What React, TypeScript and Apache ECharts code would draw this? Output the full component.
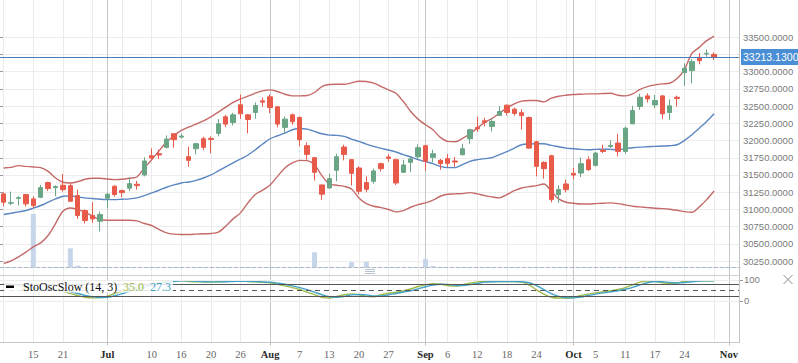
import React, { useEffect, useRef } from "react";
import * as echarts from "echarts";

// Trading days (BSE), 12 Jun 2017 – 31 Oct 2017
const DATES = [
  "2017-06-12","2017-06-13","2017-06-14","2017-06-15","2017-06-16","2017-06-19","2017-06-20","2017-06-21","2017-06-22","2017-06-23",
  "2017-06-27","2017-06-28","2017-06-29","2017-06-30","2017-07-03","2017-07-04","2017-07-05","2017-07-06","2017-07-07","2017-07-10",
  "2017-07-11","2017-07-12","2017-07-13","2017-07-14","2017-07-17","2017-07-18","2017-07-19","2017-07-20","2017-07-21","2017-07-24",
  "2017-07-25","2017-07-26","2017-07-27","2017-07-28","2017-07-31","2017-08-01","2017-08-02","2017-08-03","2017-08-04","2017-08-07",
  "2017-08-08","2017-08-09","2017-08-10","2017-08-11","2017-08-14","2017-08-16","2017-08-17","2017-08-18","2017-08-21","2017-08-22",
  "2017-08-23","2017-08-24","2017-08-28","2017-08-29","2017-08-30","2017-08-31","2017-09-01","2017-09-04","2017-09-05","2017-09-06",
  "2017-09-07","2017-09-08","2017-09-11","2017-09-12","2017-09-13","2017-09-14","2017-09-15","2017-09-18","2017-09-19","2017-09-20",
  "2017-09-21","2017-09-22","2017-09-25","2017-09-26","2017-09-27","2017-09-28","2017-09-29","2017-10-03","2017-10-04","2017-10-05",
  "2017-10-06","2017-10-09","2017-10-10","2017-10-11","2017-10-12","2017-10-13","2017-10-16","2017-10-17","2017-10-18","2017-10-19",
  "2017-10-23","2017-10-24","2017-10-25","2017-10-26","2017-10-27","2017-10-30","2017-10-31",
];

const OPEN = [
  31225,31090,31160,31215,31152,31176,31389,31316,31350,31345,
  31200,30983,30911,30828,31162,31336,31273,31307,31365,31500,
  31780,31809,31901,32099,32050,31765,31881,32026,32031,32104,
  32345,32263,32519,32374,32408,32577,32635,32490,32191,32374,
  32335,31925,31751,31355,31311,31567,31906,31722,31601,31389,
  31408,31664,31761,31722,31538,31683,31765,31925,31756,31712,
  31737,31703,31794,32026,32191,32287,32205,32364,32514,32456,
  32405,32335,31982,31683,31779,31214,31369,31523,31528,31721,
  31639,31861,31915,31963,31842,32243,32494,32649,32518,32649,
  32407,32629,32987,33016,33209,33257,33252,
];
const HIGH = [
  31249,31258,31191,31225,31186,31355,31403,31350,31514,31384,
  31287,30998,31104,30969,31239,31350,31287,31466,31413,31756,
  31886,31867,32075,32108,32104,31910,31968,32055,32060,32311,
  32374,32403,32669,32384,32553,32625,32669,32495,32350,32393,
  32350,31973,31756,31360,31519,31809,31939,31732,31625,31480,
  31592,31679,31804,31737,31722,31756,31944,31939,31867,31732,
  31804,31761,31954,32171,32345,32331,32326,32500,32524,32480,
  32456,32349,31997,31697,31794,31350,31432,31601,31755,31770,
  31837,31939,32002,32098,32204,32504,32678,32687,32663,32663,
  32600,32654,33122,33185,33272,33325,33281,
];
const LOW = [
  31046,31060,31060,31041,31022,31162,31268,31191,31258,31109,
  30862,30795,30804,30679,31017,31186,31176,31263,31287,31480,
  31732,31732,31886,31896,32031,31621,31799,31862,31814,32060,
  32195,32219,32316,32104,32316,32490,32398,32191,32104,32229,
  31915,31722,31418,31138,31302,31408,31712,31345,31220,31249,
  31374,31548,31693,31355,31529,31543,31732,31563,31683,31577,
  31616,31621,31785,31954,32128,32205,32133,32360,32364,32360,
  32160,31881,31480,31446,31103,31094,31248,31441,31470,31562,
  31625,31818,31890,31770,31808,32238,32446,32552,32470,32315,
  32301,32494,32794,32832,33108,33219,33170,
];
const CLOSE = [
  31104,31097,31170,31080,31055,31316,31302,31331,31287,31118,
  30911,30838,30862,30925,31220,31215,31244,31374,31345,31703,
  31746,31790,32021,32012,32065,31712,31954,31901,32017,32244,
  32239,32374,32389,32306,32509,32558,32480,32239,32311,32273,
  32012,31799,31538,31220,31447,31765,31799,31524,31263,31292,
  31558,31592,31741,31384,31645,31732,31896,31698,31809,31664,
  31669,31688,31881,32157,32171,32263,32277,32422,32408,32393,
  32362,31890,31625,31591,31142,31287,31287,31499,31663,31577,
  31818,31842,31929,31842,32180,32436,32629,32605,32581,32388,
  32504,32610,33050,33146,33161,33267,33213.13,
];
const VOLUME = [
  0,0,0,0,200,0,0,0,0,71,
  6,0,0,0,0,0,0,0,0,0,
  0,0,0,0,0,0,0,0,0,0,
  0,0,0,0,0,0,0,0,0,0,
  0,0,56,0,0,0,0,19,0,20,
  0,0,0,0,0,0,0,31,5,0,
  0,0,0,0,0,0,0,0,0,0,
  0,0,0,0,0,0,0,0,0,0,
  0,0,0,0,0,0,0,0,0,0,
  0,0,0,0,0,0,0,
];

// Bollinger bands (20, 2)
const BB_UPPER = [
  31601,31611,31635,31625,31616,31606,31553,31456,31394,31384,
  31403,31437,31452,31452,31442,31432,31437,31452,31471,31601,
  31722,31852,31978,32070,32147,32195,32239,32287,32345,32413,
  32485,32553,32606,32644,32688,32722,32736,32712,32673,32649,
  32649,32654,32698,32785,32814,32818,32818,32838,32862,32857,
  32833,32785,32736,32688,32567,32422,32311,32229,32157,32046,
  31988,31983,32031,32099,32181,32263,32321,32398,32476,32533,
  32572,32582,32581,32562,32615,32644,32658,32668,32673,32678,
  32678,32683,32687,32658,32649,32678,32745,32784,32808,32823,
  32832,32900,33035,33267,33354,33451,33518,
];
const BB_MIDDLE = [
  30925,30944,30964,30983,31017,31056,31104,31152,31191,31196,
  31181,31167,31157,31147,31142,31142,31147,31152,31167,31200,
  31239,31278,31321,31355,31384,31398,31422,31456,31500,31558,
  31616,31674,31732,31790,31867,31950,32026,32070,32108,32157,
  32176,32166,32133,32099,32079,32075,32060,32021,31988,31949,
  31915,31886,31862,31833,31795,31761,31722,31693,31664,31625,
  31606,31606,31650,31698,31722,31737,31751,31795,31838,31891,
  31939,31950,31953,31953,31929,31910,31890,31881,31871,31866,
  31871,31876,31871,31866,31881,31895,31905,31910,31915,31920,
  31924,31939,32002,32084,32180,32277,32388,
];
const BB_LOWER = [
  30215,30253,30311,30379,30456,30514,30620,30794,30973,31021,
  30997,30959,30901,30853,30843,30843,30843,30843,30833,30795,
  30766,30708,30659,30640,30635,30635,30640,30645,30650,30669,
  30756,30862,30949,31094,31215,31280,31355,31480,31601,31674,
  31712,31708,31650,31490,31369,31350,31335,31297,31167,31085,
  31046,31026,30998,30964,30983,31031,31070,31094,31133,31191,
  31220,31225,31229,31244,31225,31200,31181,31167,31215,31273,
  31311,31330,31345,31369,31263,31152,31103,31089,31079,31079,
  31084,31089,31094,31084,31065,31045,31036,31026,31016,31011,
  31002,30987,30968,30958,31036,31142,31267,
];

// Slow stochastic (14, 3)
const STOCH_K = [
  79,78,73,65,52,50,55,50,45,35,
  25,17,14,15,22,35,45,55,65,75,
  82,88,93,96,96,92,90,90,89,91,
  92,93,94,92,90,88,86,79,71,63,
  54,41,29,16,13,21,29,33,29,21,
  19,29,36,41,48,56,68,76,81,79,
  73,70,76,84,90,92,92,92,92,92,
  89,76,52,32,17,13,13,17,25,32,
  38,43,48,54,63,76,89,94,92,86,
  83,86,92,95,95,95,95,
];
const STOCH_D = [
  80,79,77,72,63,56,52,52,50,43,
  35,26,19,15,17,24,34,45,55,65,
  74,82,88,92,95,95,93,91,90,90,
  91,92,93,93,92,90,88,84,79,71,
  63,53,41,29,19,17,21,28,30,28,
  23,23,28,35,42,48,57,67,75,79,
  78,74,73,77,83,89,91,92,92,92,
  91,86,72,53,34,21,14,14,18,25,
  32,38,43,48,55,64,76,86,92,91,
  87,85,87,91,94,95,95,
];
const STOCH_LEGEND_K = 35.0;
const STOCH_LEGEND_D = 27.3;
const STOCH_LEVELS_SOLID = [80, 20];
const STOCH_LEVEL_DASHED = 50;

// x-axis tick labels, one per slot (99 slots: data + 2 trailing days)
const TICK_LABELS = [
  "", "", "", "", "15", "", "", "", "21", "",
  "", "", "", "", "Jul", "", "", "", "", "",
  "10", "", "", "", "16", "", "", "", "20", "",
  "", "", "26", "", "", "", "Aug", "", "", "",
  "7", "", "", "", "13", "", "", "", "20", "",
  "", "", "27", "", "", "", "", "Sep", "", "",
  "6", "", "", "", "12", "", "", "", "18", "",
  "", "", "24", "", "", "", "", "Oct", "", "",
  "5", "", "", "", "11", "", "", "", "17", "",
  "", "", "24", "", "", "", "", "", "Nov",
];
const MONTHS = ["Jul", "Aug", "Sep", "Oct", "Nov"];

const PRICE_MIN_TICK = 30250;
const PRICE_MAX_TICK = 33500;
const PRICE_STEP = 250;

const GREEN = "#6aa585";
const RED = "#e85b4b";
const BAND_RED = "#c56a68";
const BAND_BLUE = "#5a86c2";
const K_COLOR = "#a0bb4c";
const D_COLOR = "#41a2c6";

export default function App() {
  const ref = useRef<HTMLDivElement>(null);

  useEffect(() => {
    const chart = echarts.init(ref.current!, null, { renderer: "svg" });

    const SLOTS = DATES.concat(["", "", ""]);
    const candles = DATES.map((_, i) => [OPEN[i], CLOSE[i], LOW[i], HIGH[i]]);
    const last = CLOSE[CLOSE.length - 1];

    // main panel geometry
    const mainTop = 0;
    const mainH = 267.3;
    const tickTop = 37.3;
    const tickH = 223.7;
    const pxPerUnit = tickH / (PRICE_MAX_TICK - PRICE_MIN_TICK);
    const mainMax = PRICE_MAX_TICK + (tickTop - mainTop) / pxPerUnit;
    const mainMin = PRICE_MIN_TICK - (mainTop + mainH - (tickTop + tickH)) / pxPerUnit;

    const labelFont = "Liberation Sans";
    const serif = "Liberation Serif";

    const option: any = {
      animation: false,
      backgroundColor: "#ffffff",
      grid: [
        { left: 0, top: mainTop, width: 740, height: mainH },
        { left: 0, top: tickTop, width: 740, height: tickH },
        { left: 0, top: 275.6, width: 740, height: 67.2 },
        { left: 3.7, top: 0, width: 725.2, height: 342.5 },
      ],
      xAxis: [
        {
          gridIndex: 0, type: "category", data: SLOTS, boundaryGap: true,
          axisLine: { show: true, lineStyle: { color: "#a9b6c4", type: "dashed", width: 1 } },
          axisTick: { show: false }, axisLabel: { show: false }, splitLine: { show: false },
        },
        { gridIndex: 1, type: "value", min: 0, max: 1, show: false },
        {
          gridIndex: 2, type: "category", data: SLOTS, boundaryGap: true, show: false,
        },
        {
          gridIndex: 3, type: "category", data: TICK_LABELS, boundaryGap: false, position: "bottom",
          axisLine: { show: false },
          axisTick: {
            show: true, length: 3, inside: false,
            interval: (i: number) => MONTHS.includes(TICK_LABELS[i]),
            lineStyle: { color: "#c4c4c4" },
          },
          axisLabel: {
            show: true, interval: 0, margin: 6,
            formatter: (v: string) => (v === "" ? "" : MONTHS.includes(v) ? `{m|${v}}` : `{d|${v}}`),
            rich: {
              m: { fontFamily: serif, fontSize: 10.5, fontWeight: "bold", color: "#2a2a2a" },
              d: { fontFamily: serif, fontSize: 10.5, color: "#666666" },
            },
          },
          splitLine: {
            show: true,
            interval: (i: number) => i % 4 === 0,
            lineStyle: { color: "#ebebeb", width: 1 },
          },
        },
        {
          gridIndex: 3, type: "category", data: TICK_LABELS, boundaryGap: false, position: "top",
          axisLine: { show: false }, axisTick: { show: false }, axisLabel: { show: false },
          splitLine: {
            show: true,
            interval: (i: number) => MONTHS.includes(TICK_LABELS[i]),
            lineStyle: { color: "#c6c6c6", width: 1 },
          },
        },
      ],
      yAxis: [
        {
          gridIndex: 0, type: "value", min: mainMin, max: mainMax, position: "right",
          axisLine: { show: false }, axisTick: { show: false }, axisLabel: { show: false }, splitLine: { show: false },
        },
        {
          gridIndex: 0, type: "value", min: 0, max: 1000, show: false,
        },
        {
          gridIndex: 1, type: "value", min: PRICE_MIN_TICK, max: PRICE_MAX_TICK, interval: PRICE_STEP, position: "right",
          axisLine: { show: false },
          axisTick: { show: true, length: 3, lineStyle: { color: "#9a9a9a" } },
          axisLabel: {
            show: true, margin: 3, color: "#7a7a7a", fontSize: 9.5, fontFamily: labelFont,
            // the label hidden under the last-price box is not drawn
            formatter: (v: number) => (Math.abs(v - last) < PRICE_STEP * 0.6 && v > last ? "" : v.toFixed(4)),
          },
          splitLine: { show: true, lineStyle: { color: "#ececec", width: 1 } },
        },
        {
          gridIndex: 2, type: "value", min: -200, max: 120, interval: 100, position: "right",
          axisLine: { show: false }, axisTick: { show: false },
          axisLabel: {
            show: true, margin: 4, color: "#7a7a7a", fontSize: 9.5, fontFamily: labelFont,
            formatter: (v: number) => (v === 0 || v === 100 ? String(v) : ""),
          },
          splitLine: { show: false },
        },
        { gridIndex: 3, type: "value", min: 0, max: 1, show: false },
      ],
      series: [
        {
          type: "bar", name: "Volume", xAxisIndex: 0, yAxisIndex: 1, data: VOLUME,
          barWidth: 5, itemStyle: { color: "#c6d5ea" }, z: 1, silent: true,
        },
        {
          type: "line", name: "BB upper", xAxisIndex: 0, yAxisIndex: 0, data: BB_UPPER,
          showSymbol: false, smooth: 0.3, lineStyle: { color: BAND_RED, width: 1.4 }, z: 2,
        },
        {
          type: "line", name: "BB middle", xAxisIndex: 0, yAxisIndex: 0, data: BB_MIDDLE,
          showSymbol: false, smooth: 0.3, lineStyle: { color: BAND_BLUE, width: 1.4 }, z: 2,
        },
        {
          type: "line", name: "BB lower", xAxisIndex: 0, yAxisIndex: 0, data: BB_LOWER,
          showSymbol: false, smooth: 0.3, lineStyle: { color: BAND_RED, width: 1.4 }, z: 2,
        },
        {
          type: "candlestick", name: "Price", xAxisIndex: 0, yAxisIndex: 0, data: candles,
          barWidth: 5, z: 3,
          itemStyle: { color: GREEN, color0: RED, borderColor: GREEN, borderColor0: RED, borderWidth: 1 },
          markLine: {
            silent: true, symbol: "none", animation: false,
            data: [{ yAxis: last }],
            lineStyle: { color: "#4a7cb8", width: 1, type: "solid" },
            label: {
              show: true, position: "end", distance: 1,
              formatter: () => last.toFixed(4),
              backgroundColor: "#4a8fd6", color: "#ffffff",
              fontSize: 10.5, fontFamily: labelFont, padding: [3, 2, 2, 2],
            },
          },
        },
        {
          type: "line", name: "%K", xAxisIndex: 2, yAxisIndex: 3, data: STOCH_K,
          showSymbol: false, smooth: 0.3, lineStyle: { color: K_COLOR, width: 1.4 }, z: 3,
          markLine: {
            silent: true, symbol: "none", animation: false,
            label: { show: false },
            data: [
              { yAxis: 100, lineStyle: { color: "#ececec", type: "solid", width: 1 } },
              { yAxis: 0, lineStyle: { color: "#ececec", type: "solid", width: 1 } },
              ...STOCH_LEVELS_SOLID.map((v) => ({ yAxis: v, lineStyle: { color: "#555555", type: "solid", width: 1 } })),
              { yAxis: STOCH_LEVEL_DASHED, lineStyle: { color: "#555555", type: [5, 4], width: 1 } },
            ],
          },
        },
        {
          type: "line", name: "%D", xAxisIndex: 2, yAxisIndex: 3, data: STOCH_D,
          showSymbol: false, smooth: 0.3, lineStyle: { color: D_COLOR, width: 1.4 }, z: 3,
        },
      ],
      graphic: [
        // panel borders
        { type: "line", z: 50, shape: { x1: 0, y1: 275.5, x2: 740, y2: 275.5 }, style: { stroke: "#d0d0d0", lineWidth: 1 } },
        { type: "line", z: 50, shape: { x1: 0, y1: 342.5, x2: 740, y2: 342.5 }, style: { stroke: "#c8c8c8", lineWidth: 1 } },
        { type: "line", z: 50, shape: { x1: 739.5, y1: 0, x2: 739.5, y2: 342.5 }, style: { stroke: "#c4c4c4", lineWidth: 1 } },
        // stoch axis ticks
        { type: "line", z: 50, shape: { x1: 740, y1: 280.5, x2: 743, y2: 280.5 }, style: { stroke: "#9a9a9a", lineWidth: 1 } },
        { type: "line", z: 50, shape: { x1: 740, y1: 301.5, x2: 743, y2: 301.5 }, style: { stroke: "#9a9a9a", lineWidth: 1 } },
        // resize handle
        { type: "line", z: 50, shape: { x1: 365, y1: 269.5, x2: 375, y2: 269.5 }, style: { stroke: "#b8c3ce", lineWidth: 1 } },
        { type: "line", z: 50, shape: { x1: 365, y1: 271.5, x2: 375, y2: 271.5 }, style: { stroke: "#b8c3ce", lineWidth: 1 } },
        { type: "line", z: 50, shape: { x1: 365, y1: 273.5, x2: 375, y2: 273.5 }, style: { stroke: "#b8c3ce", lineWidth: 1 } },
        // close icon
        { type: "line", z: 50, shape: { x1: 783.5, y1: 275, x2: 792.5, y2: 284 }, style: { stroke: "#8a8a8a", lineWidth: 1 } },
        { type: "line", z: 50, shape: { x1: 783.5, y1: 284, x2: 792.5, y2: 275 }, style: { stroke: "#8a8a8a", lineWidth: 1 } },
        // stoch legend
        { type: "rect", z: 100, shape: { x: 4, y: 281, width: 169, height: 11.5 }, style: { fill: "rgba(255,255,255,0.85)" } },
        { type: "rect", z: 101, shape: { x: 6, y: 285.5, width: 8, height: 2.5 }, style: { fill: "#000000" } },
        {
          type: "text", z: 101, x: 23, y: 287.3,
          style: { text: "StoOscSlow (14, 3)", fill: "#111111", font: `12px "${serif}"`, verticalAlign: "middle" },
        },
        {
          type: "text", z: 101, x: 123, y: 287.3,
          style: { text: STOCH_LEGEND_K.toFixed(1), fill: K_COLOR, font: `12px "${serif}"`, verticalAlign: "middle" },
        },
        {
          type: "text", z: 101, x: 150, y: 287.3,
          style: { text: STOCH_LEGEND_D.toFixed(1), fill: D_COLOR, font: `12px "${serif}"`, verticalAlign: "middle" },
        },
      ],
    };

    chart.setOption(option);
    return () => chart.dispose();
  }, []);

  return (
    <div
      ref={ref}
      style={{ position: "fixed", left: 0, top: 0, width: 798, height: 363, background: "#ffffff" }}
    />
  );
}
